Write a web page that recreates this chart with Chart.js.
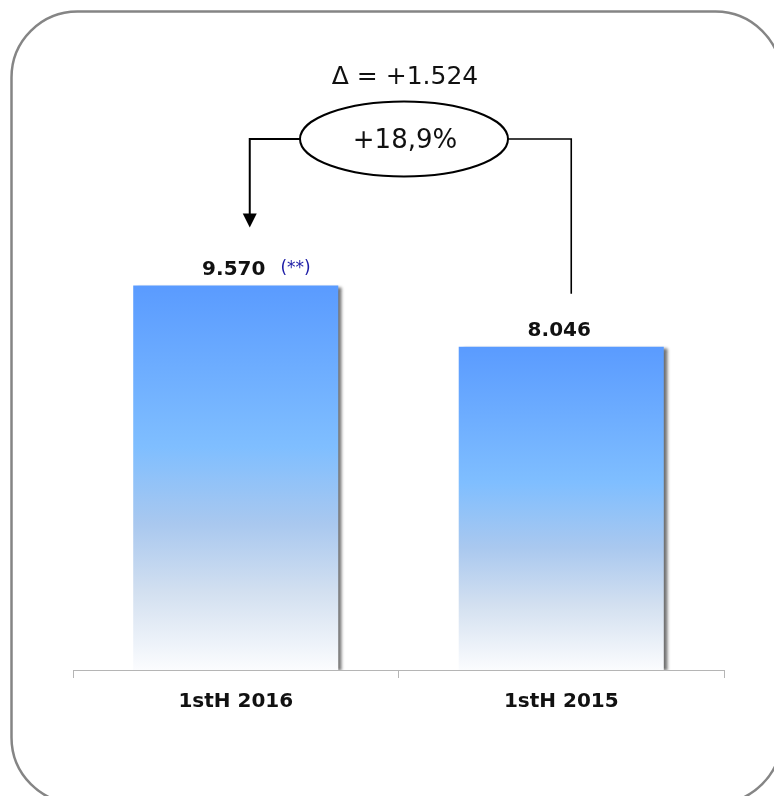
<!DOCTYPE html>
<html>
<head>
<meta charset="utf-8">
<script src="https://cdn.jsdelivr.net/npm/chart.js@4/dist/chart.umd.min.js"></script>
<style>
  html, body { margin: 0; padding: 0; background: #fff; }
  #wrap { width: 774px; height: 796px; position: relative; }
</style>
</head>
<body>
<div id="wrap"><canvas id="halfChart"></canvas></div>
<script>
// data
const periods = ['1stH 2016', '1stH 2015'];
const values = [9570, 8046];
const notes = ['(**)', ''];

const fmt = n => n.toLocaleString('de-DE');
const delta = values[0] - values[1];
const pct = (delta / values[1] * 100).toFixed(1).replace('.', ',');

Chart.defaults.font.family = '"DejaVu Sans", Verdana, sans-serif';

// rounded frame, bar shadow, value labels and the delta callout
const decor = {
    id: 'decor',
    beforeDraw(chart) {
        const c = chart.ctx;
        c.save();
        c.strokeStyle = '#858585';
        c.lineWidth = 2.5;
        c.beginPath();
        c.roundRect(11.5, 11.5, 770, 792, 66);
        c.stroke();
        c.restore();
    },
    beforeDatasetsDraw(chart) {
        const c = chart.ctx;
        c.save();
        c.shadowColor = 'rgba(0,0,0,0.55)';
        c.shadowOffsetX = 4;
        c.shadowOffsetY = 1;
        c.shadowBlur = 3;
    },
    afterDatasetsDraw(chart) {
        chart.ctx.restore();
    },
    afterDraw(chart) {
        const c = chart.ctx;
        const bars = chart.getDatasetMeta(0).data;
        c.save();
        c.textBaseline = 'middle';

        bars.forEach((b, i) => {
            c.font = 'bold 20px "DejaVu Sans"';
            c.fillStyle = '#111';
            c.textAlign = 'center';
            const txt = fmt(values[i]);
            c.fillText(txt, b.x - 2, b.y - 16);
            if (notes[i]) {
                const w = c.measureText(txt).width;
                c.font = '17px "DejaVu Sans"';
                c.fillStyle = '#1c1ca6';
                c.textAlign = 'left';
                c.fillText(notes[i], b.x - 2 + w / 2 + 15, b.y - 17);
            }
        });

        // callout
        const x1 = bars[0].x + 14;
        const x2 = bars[1].x + 10;
        const cx = 404, cy = 139, rx = 104, ry = 37.5;
        c.strokeStyle = '#000';
        c.lineWidth = 2;
        c.beginPath();
        c.ellipse(cx, cy, rx, ry, 0, 0, Math.PI * 2);
        c.stroke();

        const tipY = bars[0].y - 58;
        c.beginPath();
        c.moveTo(cx - rx, cy);
        c.lineTo(x1, cy);
        c.lineTo(x1, tipY - 12);
        c.stroke();
        c.beginPath();
        c.moveTo(x1 - 7, tipY - 14);
        c.lineTo(x1 + 7, tipY - 14);
        c.lineTo(x1, tipY);
        c.closePath();
        c.fillStyle = '#000';
        c.fill();

        c.lineWidth = 1.6;
        c.beginPath();
        c.moveTo(cx + rx, cy);
        c.lineTo(x2, cy);
        c.lineTo(x2, bars[1].y - 53);
        c.stroke();

        c.fillStyle = '#111';
        c.textAlign = 'center';
        c.font = '25px "DejaVu Sans"';
        c.fillText('\u0394 = +' + fmt(delta), cx + 1, 77);
        c.font = '26px "DejaVu Sans"';
        c.fillText('+' + pct + '%', cx + 1, cy + 2);
        c.restore();
    }
};

new Chart(document.getElementById('halfChart'), {
    type: 'bar',
    data: {
        labels: periods,
        datasets: [{
            data: values,
            barPercentage: 0.9,
            categoryPercentage: 0.7,
            borderWidth: 0,
            backgroundColor: ctx => {
                const chart = ctx.chart;
                const area = chart.chartArea;
                if (!area || ctx.dataIndex === undefined) return '#6aa8ff';
                const top = chart.scales.y.getPixelForValue(ctx.dataset.data[ctx.dataIndex]);
                const g = chart.ctx.createLinearGradient(0, top, 0, area.bottom);
                g.addColorStop(0, '#5a9bff');
                g.addColorStop(0.42, '#7fbeff');
                g.addColorStop(0.62, '#a9c8ef');
                g.addColorStop(0.8, '#d3e0f0');
                g.addColorStop(1, '#fbfcfe');
                return g;
            }
        }]
    },
    options: {
        responsive: true,
        maintainAspectRatio: false,
        animation: false,
        layout: { padding: { left: 73, right: 50, top: 188, bottom: 0 } },
        plugins: { legend: { display: false }, tooltip: { enabled: false } },
        scales: {
            x: {
                afterFit: s => { s.height = 126; },
                border: { display: true, color: '#b5b5b5', width: 1 },
                grid: { offset: true, drawOnChartArea: false, tickLength: 8, color: '#b5b5b5' },
                ticks: { padding: 12, color: '#111', font: { size: 20, weight: 'bold' } }
            },
            y: { display: false, min: 0, max: 12000 }
        }
    },
    plugins: [decor]
});
</script>
</body>
</html>
